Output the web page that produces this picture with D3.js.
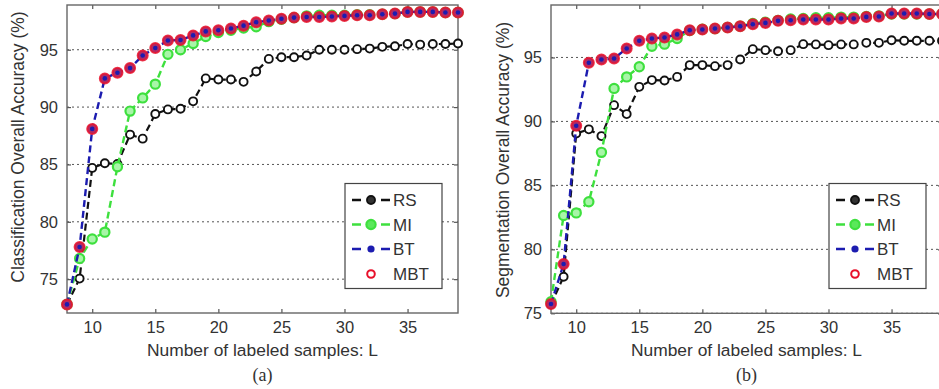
<!DOCTYPE html>
<html>
<head>
<meta charset="utf-8">
<script src="https://cdn.jsdelivr.net/npm/d3@7"></script>
<style>
  html, body { margin: 0; padding: 0; background: #fff; }
  svg { display: block; }
  text { font-family: "Liberation Sans", Arial, sans-serif; fill: #333; }
</style>
</head>
<body>
<svg id="chart" width="939" height="389"></svg>
<script>
// ---------- data ----------
const samplesL = [8,9,10,11,12,13,14,15,16,17,18,19,20,21,22,23,24,25,26,27,28,29,30,31,32,33,34,35,36,37,38,39];
const xTicks = [10,15,20,25,30,35];
const yTicksA = [75,80,85,90,95];
const yTicksB = [75,80,85,90,95];
const seriesNames = ["RS","MI","BT","MBT"];

// (a) Classification overall accuracy (%)
const classRS  = [72.8,75.05,84.7,85.1,85.05,87.6,87.25,89.4,89.8,89.85,90.5,92.5,92.4,92.4,92.2,93.1,94.2,94.35,94.35,94.5,95.0,95.0,95.0,95.05,95.1,95.25,95.3,95.5,95.45,95.5,95.5,95.55];
const classMI  = [72.8,76.8,78.5,79.1,84.8,89.65,90.8,92.0,94.6,95.0,95.55,96.15,96.5,96.7,96.9,97.0,97.45,97.65,97.8,97.95,98.0,98.0,98.0,98.05,98.05,98.1,98.15,98.3,98.3,98.3,98.25,98.25];
const classBT  = [72.8,77.8,88.1,92.5,93.0,93.4,94.5,95.15,95.8,95.85,96.25,96.6,96.7,96.85,97.1,97.4,97.55,97.7,97.8,97.85,97.85,97.9,97.95,98.0,98.0,98.1,98.15,98.3,98.3,98.3,98.25,98.25];
const classMBT = [72.8,77.8,88.1,92.5,93.0,93.4,94.5,95.15,95.8,95.85,96.25,96.6,96.7,96.85,97.1,97.4,97.55,97.7,97.8,97.85,97.85,97.9,97.95,98.0,98.0,98.1,98.15,98.3,98.3,98.3,98.25,98.25];

// (b) Segmentation overall accuracy (%)
const segRS  = [75.7,77.86,89.06,89.38,88.85,91.27,90.57,92.7,93.23,93.2,93.48,94.4,94.4,94.32,94.4,94.84,95.65,95.57,95.49,95.57,96.04,96.02,95.96,96.02,96.02,96.14,96.14,96.35,96.3,96.3,96.3,96.3];
const segMI  = [75.9,82.65,82.85,83.72,87.58,92.58,93.48,94.27,95.88,96.04,96.48,97.1,97.2,97.25,97.35,97.45,97.65,97.75,97.9,98.0,98.05,98.1,98.1,98.15,98.15,98.2,98.25,98.4,98.4,98.4,98.4,98.4];
const segBT  = [75.73,78.85,89.66,94.58,94.84,94.92,95.7,96.3,96.48,96.56,96.8,97.13,97.19,97.26,97.34,97.44,97.6,97.7,97.86,97.91,97.97,97.97,97.97,98.05,98.05,98.17,98.2,98.44,98.44,98.44,98.4,98.4];
const segMBT = [75.73,78.85,89.66,94.58,94.84,94.92,95.7,96.3,96.48,96.56,96.8,97.13,97.19,97.26,97.34,97.44,97.6,97.7,97.86,97.91,97.97,97.97,97.97,98.05,98.05,98.17,98.2,98.44,98.44,98.44,98.4,98.4];

// ---------- drawing ----------
const svg = d3.select("#chart");
const COL = { RS: "#111111", MI: "#3ee03e", BT: "#1c1cb0", MBT: "#e8102a" };

function drawPanel(cfg) {
  const { left, right, top, bottom, yDomain, yTicks, series, yTitle, label } = cfg;
  const g = svg.append("g");
  const x = d3.scaleLinear().domain([8, 39]).range([left, right]);
  const y = d3.scaleLinear().domain(yDomain).range([bottom, top]);

  // grid lines (dotted)
  g.append("g").selectAll("line").data(yTicks).join("line")
    .attr("x1", left).attr("x2", right)
    .attr("y1", d => y(d)).attr("y2", d => y(d))
    .attr("stroke", "#555").attr("stroke-width", 1).attr("stroke-dasharray", "2,3");

  // axes
  const xAxis = d3.axisBottom(x).tickValues(xTicks).tickSize(-4).tickPadding(8);
  const gx = g.append("g").attr("transform", `translate(0,${bottom})`).call(xAxis);
  const yAxis = d3.axisLeft(y).tickValues(yTicks).tickSize(-4).tickPadding(9);
  const gy = g.append("g").attr("transform", `translate(${left},0)`).call(yAxis);
  const xTop = d3.axisTop(x).tickValues(xTicks).tickSize(-4).tickFormat("");
  const gxt = g.append("g").attr("transform", `translate(0,${top})`).call(xTop);
  const yRight = d3.axisRight(y).tickValues(yTicks).tickSize(-4).tickFormat("");
  const gyr = g.append("g").attr("transform", `translate(${right},0)`).call(yRight);
  [gx, gy, gxt, gyr].forEach(a => {
    a.select(".domain").remove();
    a.selectAll(".tick line").attr("stroke", "#555").attr("stroke-width", 1.2);
    a.selectAll(".tick text").attr("font-size", 16.5).attr("fill", "#333")
      .attr("font-family", "'Liberation Sans', Arial, sans-serif");
  });
  g.append("rect").attr("x", left).attr("y", top)
    .attr("width", right - left).attr("height", bottom - top)
    .attr("fill", "none").attr("stroke", "#666").attr("stroke-width", 1.4);

  const line = d3.line().x((d, i) => x(samplesL[i])).y(d => y(d));
  const dash = "7,4";

  // RS
  g.append("path").datum(series.RS).attr("d", line).attr("fill", "none")
    .attr("stroke", COL.RS).attr("stroke-width", 2.2).attr("stroke-dasharray", dash);
  g.append("g").selectAll("circle").data(series.RS).join("circle")
    .attr("cx", (d, i) => x(samplesL[i])).attr("cy", d => y(d)).attr("r", 4)
    .attr("fill", "#fff").attr("stroke", COL.RS).attr("stroke-width", 1.9);

  // MI
  g.append("path").datum(series.MI).attr("d", line).attr("fill", "none")
    .attr("stroke", COL.MI).attr("stroke-width", 2.4).attr("stroke-dasharray", dash);
  g.append("g").selectAll("circle").data(series.MI).join("circle")
    .attr("cx", (d, i) => x(samplesL[i])).attr("cy", d => y(d)).attr("r", 4.6)
    .attr("fill", "#a8f5a8").attr("stroke", COL.MI).attr("stroke-width", 2.2);

  // BT line
  g.append("path").datum(series.BT).attr("d", line).attr("fill", "none")
    .attr("stroke", COL.BT).attr("stroke-width", 2.4).attr("stroke-dasharray", dash);

  // MBT markers
  g.append("g").selectAll("circle").data(series.MBT).join("circle")
    .attr("cx", (d, i) => x(samplesL[i])).attr("cy", d => y(d)).attr("r", 5)
    .attr("fill", "#b32a62").attr("stroke", COL.MBT).attr("stroke-width", 2).attr("stroke-opacity", 0.85);

  // BT dots on top
  g.append("g").selectAll("circle").data(series.BT).join("circle")
    .attr("cx", (d, i) => x(samplesL[i])).attr("cy", d => y(d)).attr("r", 2.3)
    .attr("fill", COL.BT);

  // axis titles
  g.append("text").attr("x", (left + right) / 2).attr("y", 356)
    .attr("text-anchor", "middle").attr("font-size", 17.4)
    .text("Number of labeled samples: L");
  g.append("text")
    .attr("transform", `translate(${cfg.yTitleX},${cfg.yTitleY}) rotate(-90)`)
    .attr("text-anchor", "middle").attr("font-size", 17.5)
    .text(yTitle);
  g.append("text").attr("x", (left + right) / 2).attr("y", 381)
    .attr("text-anchor", "middle").attr("font-size", 18)
    .style("font-family", "'Liberation Serif', 'Times New Roman', serif")
    .attr("fill", "#222")
    .text(label);

  // legend
  const lx = left + 278, ly = 183.5, lw = 97, lh = 105;
  const lg = g.append("g");
  lg.append("rect").attr("x", lx).attr("y", ly).attr("width", lw).attr("height", lh)
    .attr("fill", "#fff").attr("stroke", "#444").attr("stroke-width", 1.2);
  const rowY = [200, 224.5, 249, 274];
  seriesNames.forEach((name, i) => {
    const cy = rowY[i];
    const mx = lx + 26;
    if (name !== "MBT") {
      lg.append("line").attr("x1", lx + 7).attr("x2", lx + 45)
        .attr("y1", cy).attr("y2", cy)
        .attr("stroke", COL[name]).attr("stroke-width", 2.4).attr("stroke-dasharray", "9,20");
    }
    if (name === "RS") {
      lg.append("circle").attr("cx", mx).attr("cy", cy).attr("r", 4)
        .attr("fill", "#333").attr("stroke", "#111").attr("stroke-width", 1.9);
    } else if (name === "MI") {
      lg.append("circle").attr("cx", mx).attr("cy", cy).attr("r", 4.6)
        .attr("fill", "#5be85b").attr("stroke", COL.MI).attr("stroke-width", 2.2);
    } else if (name === "BT") {
      lg.append("circle").attr("cx", mx).attr("cy", cy).attr("r", 3.6).attr("fill", COL.BT);
    } else {
      lg.append("circle").attr("cx", mx).attr("cy", cy).attr("r", 3.8)
        .attr("fill", "#fff").attr("stroke", COL.MBT).attr("stroke-width", 2);
    }
    lg.append("text").attr("x", lx + 48).attr("y", cy + 6)
      .attr("font-size", 17).text(name);
  });
}

drawPanel({
  left: 67, right: 458, top: 5, bottom: 313,
  yDomain: [72.05, 98.9], yTicks: yTicksA,
  series: { RS: classRS, MI: classMI, BT: classBT, MBT: classMBT },
  yTitle: "Classification Overall Accuracy (%)", yTitleX: 24, yTitleY: 147,
  label: "(a)"
});
drawPanel({
  left: 551, right: 942, top: 5, bottom: 313.3,
  yDomain: [75, 99.1], yTicks: yTicksB,
  series: { RS: segRS, MI: segMI, BT: segBT, MBT: segMBT },
  yTitle: "Segmentation Overall Accuracy (%)", yTitleX: 509, yTitleY: 160,
  label: "(b)"
});
</script>
</body>
</html>
